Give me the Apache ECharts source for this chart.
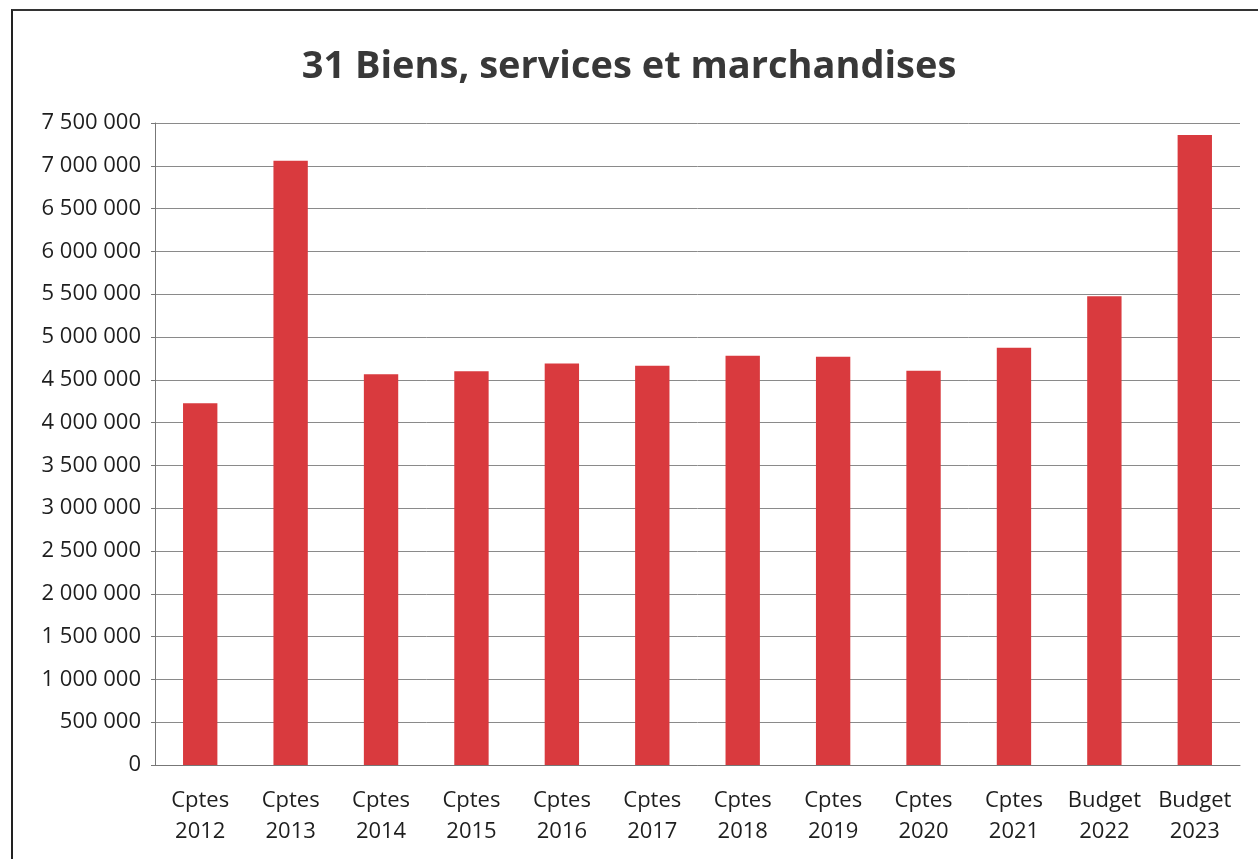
<!DOCTYPE html>
<html>
<head>
<meta charset="utf-8">
<script src="https://cdn.jsdelivr.net/npm/echarts@6/dist/echarts.min.js"></script>
<style>
  html, body { margin: 0; padding: 0; background: #fff; }
  #frame { position: absolute; left: 11px; top: 9px; width: 1247px; height: 850px;
           border-left: 2px solid #222; border-top: 2px solid #333; }
  #main { position: absolute; left: 0; top: 0; width: 1258px; height: 859px; }
</style>
</head>
<body>
<div id="frame"></div>
<div id="main"></div>
<script>
// libellés et montants
var categories = ['Cptes\n2012', 'Cptes\n2013', 'Cptes\n2014', 'Cptes\n2015', 'Cptes\n2016', 'Cptes\n2017',
                  'Cptes\n2018', 'Cptes\n2019', 'Cptes\n2020', 'Cptes\n2021', 'Budget\n2022', 'Budget\n2023'];
var montants = [4225000, 7060000, 4565000, 4600000, 4690000, 4665000,
                4780000, 4770000, 4605000, 4875000, 5475000, 7360000];
var titre = '31 Biens, services et marchandises';

function fmt(v) {
	return String(v).replace(/\B(?=(\d{3})+(?!\d))/g, ' ');
}

var myChart = echarts.init(document.getElementById('main'));

var option = {
	animation: false,
	title: {
		text: titre,
		left: 'center',
		top: 43,
		textStyle: {
			fontFamily: 'Open Sans',
			fontWeight: 'bold',
			fontSize: 38,
			color: '#383838'
		}
	},
	grid: { left: 155, right: 18, top: 123, bottom: 94 },
	xAxis: {
		type: 'category',
		data: categories,
		axisLine: { lineStyle: { color: '#777', width: 1 } },
		axisTick: { alignWithLabel: false, length: 8, lineStyle: { color: '#777' } },
		axisLabel: {
			interval: 0,
			margin: 20,
			fontFamily: 'Open Sans',
			fontSize: 22,
			lineHeight: 31,
			color: '#1e1e1e'
		}
	},
	yAxis: {
		type: 'value',
		min: 0,
		max: 7500000,
		interval: 500000,
		axisLine: { show: true, lineStyle: { color: '#777' } },
		axisTick: { show: true, length: 4, lineStyle: { color: '#777' } },
		splitLine: { lineStyle: { color: '#8a8a8a', width: 1 } },
		axisLabel: {
			margin: 14,
			fontFamily: 'Open Sans',
			fontSize: 22,
			color: '#1e1e1e',
			formatter: fmt
		}
	},
	series: [{
		type: 'bar',
		data: montants,
		barWidth: '38%',
		itemStyle: { color: '#d93a3e' }
	}]
};

myChart.setOption(option);
</script>
</body>
</html>
